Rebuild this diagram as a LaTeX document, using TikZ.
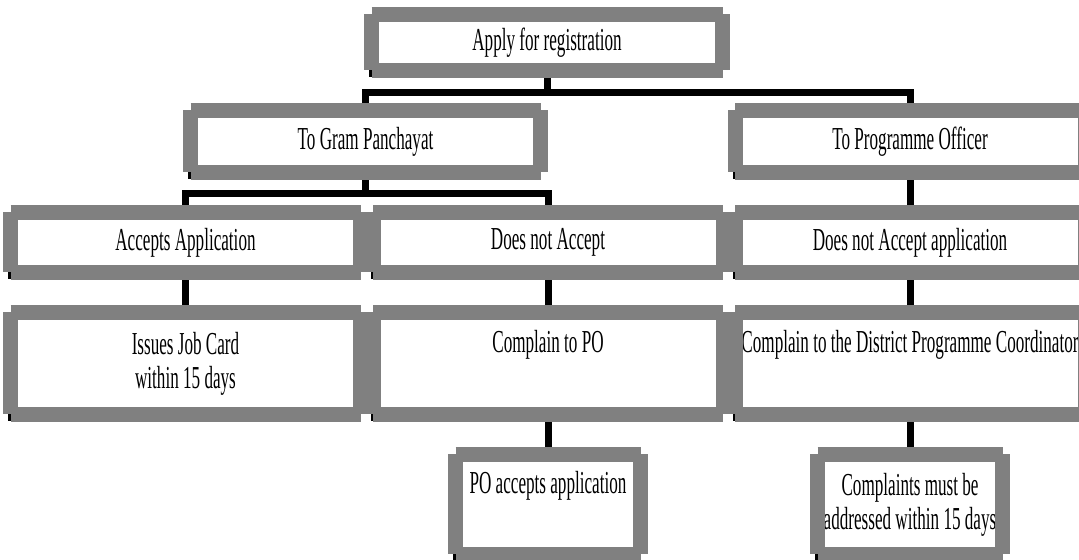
\documentclass[tikz,border=0pt]{standalone}
\usepackage{fontspec}
\newfontfamily\boxfont[FakeStretch=0.535]{Liberation Serif}
\usetikzlibrary{positioning, backgrounds}
\definecolor{framegray}{HTML}{808080}

\begin{document}
\begin{tikzpicture}[
    x=0.5pt, y=0.5pt,
    box/.style={rectangle, fill=white, outer sep=0pt, inner sep=2pt,
                minimum width=175pt, minimum height=30pt, align=center,
                font=\boxfont\fontsize{16pt}{17pt}\selectfont},
    tallbox/.style={box, minimum height=51pt},
    smallbox/.style={box, minimum width=92.5pt, minimum height=50pt},
    frame/.style={draw=framegray, line width=7.5pt, line cap=butt},
    conn/.style={line width=3.5pt},
]
\useasboundingbox (0,0) rectangle (1079,560);

% Top
\node[box, minimum width=175.5pt, minimum height=28pt] (apply) at (547,517.5) {Apply for registration};

% Where to apply
\node[box, minimum height=31pt] (gp) at (365.5,418.5) {To Gram Panchayat};
\node[box, minimum height=31pt] (po) at (910,418.5) {To Programme Officer};

% Response
\node[box] (acc) at (185.5,317.5) {Accepts Application};
\node[box] (rej) at (548,317.5) {Does not Accept};
\node[box] (porej) at (910,317.5) {Does not Accept application};

% Next step
\node[tallbox, below=20pt of acc] (card) {Issues Job Card\\within 15 days};
\node[tallbox, below=20pt of rej] (cmpo) {Complain to PO\\\strut};
\node[tallbox, below=20pt of porej] (cmdpc) {Complain to the District Programme Coordinator\\\strut};

% Outcome
\node[smallbox, below=20pt of cmpo] (poacc) {PO accepts application\\\strut};
\node[smallbox, below=20pt of cmdpc] (within) {Complaints must be\\addressed within 15 days};

% Frames
\foreach \n in {apply,gp,po,acc,rej,porej,card,cmpo,cmdpc,poacc,within} {
    \fill ([xshift=-1.25pt]\n.south west) rectangle ++(1.25pt,-3.5pt);
    \draw[frame] (\n.north west) -- (\n.north east) (\n.south west) -- (\n.south east)
                 (\n.north west) -- (\n.south west) (\n.north east) -- (\n.south east);
}

% Connectors
\begin{scope}[on background layer]
\draw[conn] (apply.south) -- ++(0,-22) coordinate (j1) -| (gp.north);
\draw[conn] (j1) -| (po.north);
\draw[conn] (gp.south) -- ++(0,-21.5) coordinate (j2) -| (acc.north);
\draw[conn] (j2) -| (rej.north);
\draw[conn] (po) -- (porej);
\draw[conn] (acc) -- (card);
\draw[conn] (rej) -- (cmpo);
\draw[conn] (porej) -- (cmdpc);
\draw[conn] (cmpo) -- (poacc);
\draw[conn] (cmdpc) -- (within);
\end{scope}

\end{tikzpicture}
\end{document}
